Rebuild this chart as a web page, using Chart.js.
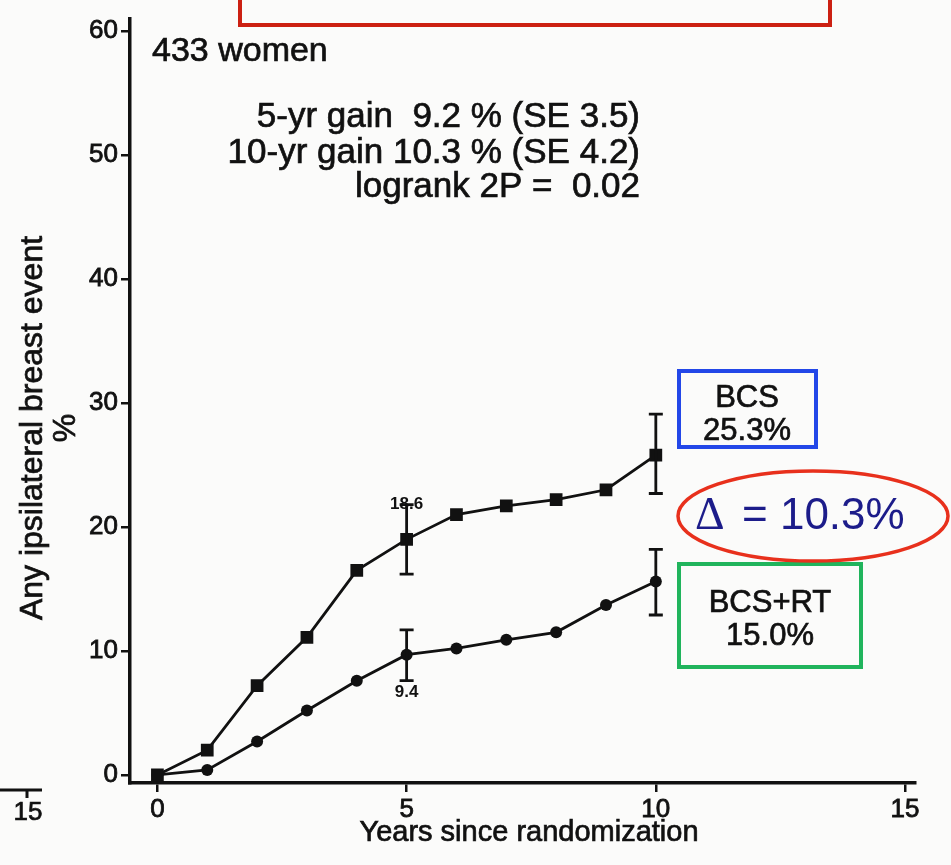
<!DOCTYPE html>
<html>
<head>
<meta charset="utf-8">
<script src="https://cdn.jsdelivr.net/npm/chart.js@4.4.1/dist/chart.umd.min.js"></script>
<style>
  html, body { margin: 0; padding: 0; background: #fbfbfa; }
  canvas { display: block; }
</style>
</head>
<body>
<canvas id="chart" width="951" height="865"></canvas>
<script>
// values (percent with ipsilateral breast event)
const years = [0, 1, 2, 3, 4, 5, 6, 7, 8, 9, 10];
const bcs = [0, 2.0, 7.2, 11.1, 16.5, 19.0, 21.0, 21.7, 22.2, 23.0, 25.8];
const bcsRt = [0, 0.4, 2.7, 5.2, 7.6, 9.7, 10.2, 10.9, 11.5, 13.7, 15.6];

// error bars at 5 and 10 years
const errYears = [5, 10];
const bcsLow = [16.2, 22.7];
const bcsHigh = [21.8, 29.1];
const bcsRtLow = [7.6, 12.9];
const bcsRtHigh = [11.7, 18.2];

const xTicks = [0, 5, 10, 15];
const yTicks = [0, 10, 20, 30, 40, 50, 60];

const SANS = '"Liberation Sans", Arial, Helvetica, sans-serif';
Chart.defaults.font.family = SANS;
Chart.defaults.color = '#111';

const ink = '#111';

// fill + thin stroke so the text has the heavier look of the scanned print
function inkText(ctx, s, x, y, w) {
  ctx.lineWidth = w;
  ctx.strokeStyle = ctx.fillStyle;
  ctx.fillText(s, x, y);
  ctx.strokeText(s, x, y);
}

const overlay = {
  id: 'overlay',
  beforeDraw(chart) {
    const ctx = chart.ctx;
    ctx.save();
    ctx.fillStyle = '#fbfbfa';
    ctx.fillRect(0, 0, chart.width, chart.height);
    ctx.restore();
  },
  afterDatasetsDraw(chart) {
    const { ctx, scales: { x, y } } = chart;
    ctx.save();
    ctx.strokeStyle = ink;
    ctx.lineWidth = 2.8;
    const bar = (xv, lo, hi) => {
      const px = x.getPixelForValue(xv);
      const p1 = y.getPixelForValue(lo);
      const p2 = y.getPixelForValue(hi);
      ctx.beginPath();
      ctx.moveTo(px, p1); ctx.lineTo(px, p2);
      ctx.moveTo(px - 7, p1); ctx.lineTo(px + 7, p1);
      ctx.moveTo(px - 7, p2); ctx.lineTo(px + 7, p2);
      ctx.stroke();
    };
    errYears.forEach((yr, i) => {
      bar(yr, bcsLow[i], bcsHigh[i]);
      bar(yr, bcsRtLow[i], bcsRtHigh[i]);
    });

    // small labels at the 5-year bars
    ctx.fillStyle = ink;
    ctx.font = 'bold 17px ' + SANS;
    ctx.textAlign = 'center';
    ctx.textBaseline = 'middle';
    ctx.fillText('18.6', x.getPixelForValue(5), y.getPixelForValue(bcsHigh[0]));
    ctx.fillText('9.4', x.getPixelForValue(5), y.getPixelForValue(bcsRtLow[0]) + 12);

    // axis titles
    ctx.font = '32px ' + SANS;
    ctx.save();
    ctx.translate(33, 428);
    ctx.rotate(-Math.PI / 2);
    inkText(ctx, 'Any ipsilateral breast event', 0, 0, 0.7);
    ctx.restore();
    ctx.save();
    ctx.translate(66, 428);
    ctx.rotate(-Math.PI / 2);
    inkText(ctx, '%', 0, 0, 0.7);
    ctx.restore();
    ctx.font = '29px ' + SANS;
    inkText(ctx, 'Years since randomization', 529, 833, 0.7);

    // text in plot
    ctx.textBaseline = 'alphabetic';
    ctx.textAlign = 'left';
    ctx.font = '34px ' + SANS;
    inkText(ctx, '433 women', 152, 61, 0.7);
    ctx.textAlign = 'right';
    ctx.font = '35px ' + SANS;
    inkText(ctx, '5-yr gain  9.2 % (SE 3.5)', 640, 127, 0.7);
    inkText(ctx, '10-yr gain 10.3 % (SE 4.2)', 640, 163, 0.7);
    inkText(ctx, 'logrank 2P =  0.02', 640, 197, 0.7);

    // callout boxes
    ctx.lineWidth = 4;
    ctx.strokeStyle = '#cc2012';
    ctx.strokeRect(240, -10, 590, 35);
    ctx.strokeStyle = '#2347e8';
    ctx.strokeRect(679, 371, 137, 76);
    ctx.strokeStyle = '#20b45c';
    ctx.strokeRect(679, 564, 182, 103);
    ctx.strokeStyle = '#e8301c';
    ctx.lineWidth = 3.5;
    ctx.beginPath();
    ctx.ellipse(813, 516, 135, 45, 0, 0, Math.PI * 2);
    ctx.stroke();

    ctx.textAlign = 'center';
    ctx.textBaseline = 'middle';
    ctx.fillStyle = ink;
    ctx.font = '31px ' + SANS;
    inkText(ctx, 'BCS', 747, 398, 0.7);
    inkText(ctx, '25.3%', 747, 431, 0.7);
    inkText(ctx, 'BCS+RT', 770, 603, 0.7);
    inkText(ctx, '15.0%', 770, 636, 0.7);

    ctx.fillStyle = '#1c1c8a';
    ctx.textAlign = 'left';
    ctx.textBaseline = 'alphabetic';
    ctx.font = '46px "Liberation Serif", "Times New Roman", serif';
    ctx.fillText('\u0394', 695, 529);
    ctx.font = '44px ' + SANS;
    ctx.fillText('= 10.3%', 742, 529);

    // fragment of the neighbouring panel at far left
    ctx.strokeStyle = ink;
    ctx.fillStyle = ink;
    ctx.lineWidth = 3;
    ctx.beginPath();
    ctx.moveTo(0, 790); ctx.lineTo(42, 790);
    ctx.moveTo(27, 790); ctx.lineTo(27, 798);
    ctx.stroke();
    ctx.textAlign = 'center';
    ctx.textBaseline = 'middle';
    ctx.font = '26px ' + SANS;
    inkText(ctx, '15', 28, 813, 0.7);
    ctx.restore();
  }
};

new Chart(document.getElementById('chart'), {
  type: 'line',
  data: {
    datasets: [
      {
        label: 'BCS',
        data: years.map((yr, i) => ({ x: yr, y: bcs[i] })),
        borderColor: ink,
        backgroundColor: ink,
        borderWidth: 2.8,
        pointStyle: 'rect',
        pointRadius: 9,
        pointBorderWidth: 0,
        tension: 0
      },
      {
        label: 'BCS+RT',
        data: years.map((yr, i) => ({ x: yr, y: bcsRt[i] })),
        borderColor: ink,
        backgroundColor: ink,
        borderWidth: 2.8,
        pointStyle: 'circle',
        pointRadius: 6,
        pointBorderWidth: 0,
        tension: 0
      }
    ]
  },
  options: {
    responsive: false,
    animation: false,
    devicePixelRatio: 1,
    layout: { padding: { left: 0, right: 36, top: 12, bottom: 0 } },
    plugins: { legend: { display: false }, tooltip: { enabled: false } },
    scales: {
      x: {
        type: 'linear',
        min: -0.55,
        max: 15.2,
        afterBuildTicks: s => { s.ticks = xTicks.map(v => ({ value: v })); },
        afterFit: s => { s.height = 82; },
        grid: { drawOnChartArea: false, drawTicks: true, tickLength: 9, color: ink, lineWidth: 2.5 },
        border: { display: true, color: ink, width: 3.5 },
        ticks: { font: { size: 26 }, color: ink, padding: 2, maxRotation: 0, autoSkip: false,
                 textStrokeColor: ink, textStrokeWidth: 0.8 }
      },
      y: {
        type: 'linear',
        min: -0.65,
        max: 61,
        afterBuildTicks: s => { s.ticks = yTicks.map(v => ({ value: v })); },
        afterFit: s => { s.width = 130; },
        grid: { drawOnChartArea: false, drawTicks: true, tickLength: 9, color: ink, lineWidth: 2.5 },
        border: { display: true, color: ink, width: 3.5 },
        ticks: { font: { size: 26 }, color: ink, padding: 3, autoSkip: false,
                 textStrokeColor: ink, textStrokeWidth: 0.8 }
      }
    }
  },
  plugins: [overlay]
});
</script>
</body>
</html>
